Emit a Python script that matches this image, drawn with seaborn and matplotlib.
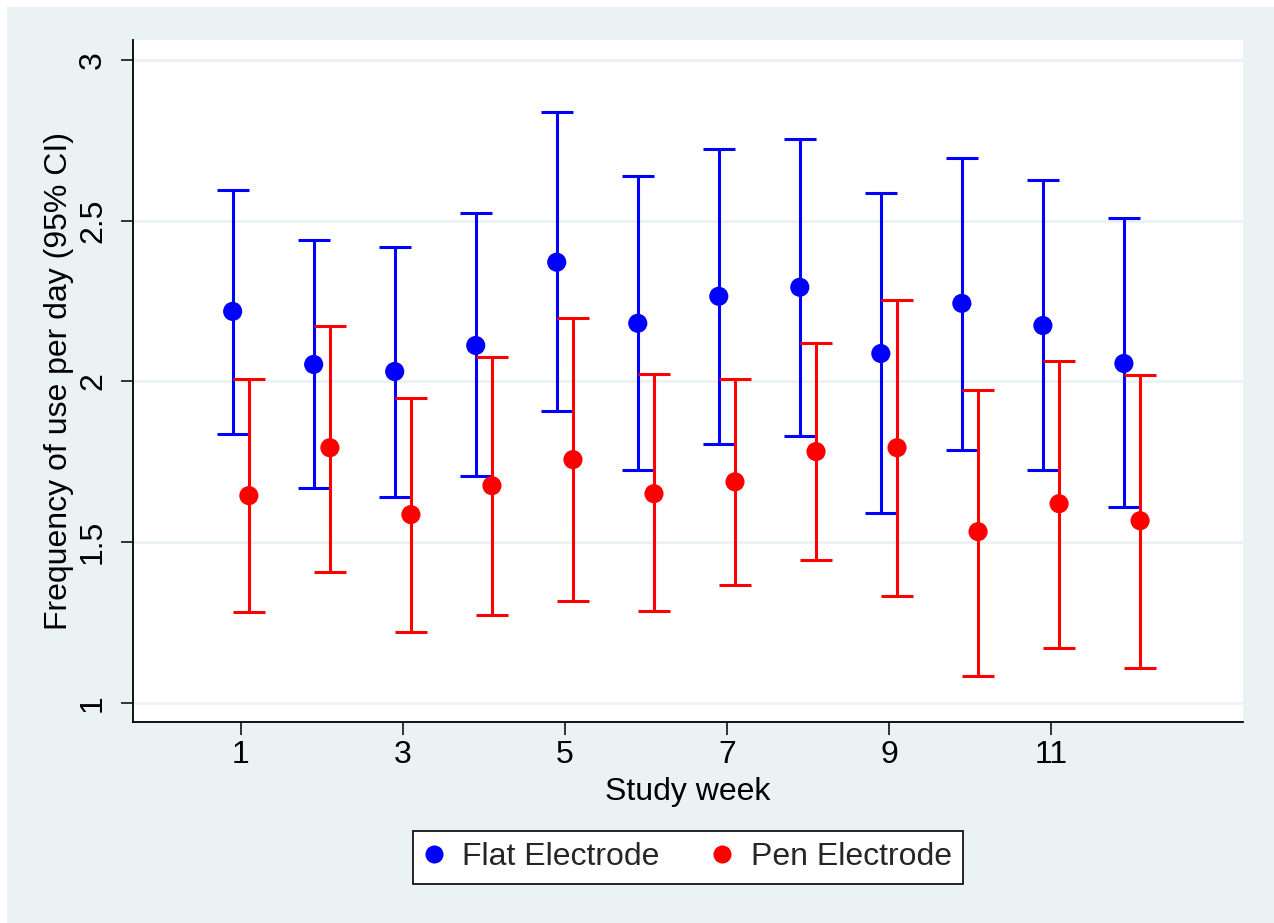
import matplotlib
matplotlib.use("Agg")
import matplotlib.pyplot as plt
from matplotlib.lines import Line2D
from matplotlib.patches import Rectangle
import seaborn as sns
import pandas as pd
import numpy as np

# ---- data ----
weeks = [1, 2, 3, 4, 5, 6, 7, 8, 9, 10, 11, 12]
flat_mean = [2.218, 2.053, 2.031, 2.112, 2.371, 2.181, 2.265, 2.293, 2.087, 2.243, 2.174, 2.056]
flat_lo   = [1.838, 1.670, 1.642, 1.707, 1.907, 1.726, 1.807, 1.832, 1.592, 1.788, 1.726, 1.611]
flat_hi   = [2.595, 2.439, 2.417, 2.523, 2.838, 2.639, 2.723, 2.754, 2.586, 2.695, 2.626, 2.508]
pen_mean  = [1.645, 1.794, 1.586, 1.676, 1.757, 1.651, 1.688, 1.782, 1.794, 1.533, 1.620, 1.567]
pen_lo    = [1.283, 1.408, 1.221, 1.274, 1.318, 1.287, 1.368, 1.445, 1.333, 1.084, 1.171, 1.109]
pen_hi    = [2.009, 2.174, 1.950, 2.075, 2.196, 2.022, 2.009, 2.121, 2.252, 1.975, 2.065, 2.019]
groups = ["Flat Electrode", "Pen Electrode"]
xticks = [1, 3, 5, 7, 9, 11]
yticks = [1, 1.5, 2, 2.5, 3]
ytick_labels = ["1", "1.5", "2", "2.5", "3"]

colors = {"Flat Electrode": "#0000FF", "Pen Electrode": "#FF0000"}
offsets = {"Flat Electrode": -0.1, "Pen Electrode": 0.1}

df = pd.concat([
    pd.DataFrame({"week": weeks, "mean": flat_mean, "lo": flat_lo, "hi": flat_hi, "group": groups[0]}),
    pd.DataFrame({"week": weeks, "mean": pen_mean, "lo": pen_lo, "hi": pen_hi, "group": groups[1]}),
], ignore_index=True)
df["pos"] = df["week"] + df["group"].map(offsets)

sns.set_theme(style="white")
plt.rcParams["font.family"] = ["Liberation Sans", "DejaVu Sans"]

FS = 23
BG = "#EAF2F3"
fig = plt.figure(figsize=(12.74, 9.23), dpi=100, facecolor="white")
fig.patches.append(Rectangle((7 / 1274, 0), 1 - 7 / 1274, 1 - 7 / 923,
                             transform=fig.transFigure, facecolor=BG,
                             edgecolor="none", zorder=-10))
ax = fig.add_axes([133 / 1274, 1 - 722 / 923, (1243 - 133) / 1274, (722 - 40) / 923])
ax.set_facecolor("white")

for g in groups:
    sub = df[df["group"] == g]
    ax.errorbar(sub["pos"], sub["mean"],
                yerr=[sub["mean"] - sub["lo"], sub["hi"] - sub["mean"]],
                fmt="none", ecolor=colors[g], elinewidth=2.2,
                capsize=11.5, capthick=2.2, zorder=2)

sns.scatterplot(data=df, x="pos", y="mean", hue="group", palette=colors,
                s=190, edgecolor="none", linewidth=0, ax=ax, legend=False, zorder=3)

ax.set_xlim(-0.33, 13.37)
ax.set_ylim(0.941, 3.062)
ax.set_xticks(xticks)
ax.set_xticklabels([str(t) for t in xticks])
ax.set_yticks(yticks)
ax.set_yticklabels(ytick_labels)
ax.yaxis.grid(True, color=BG, linewidth=2)
ax.xaxis.grid(False)
ax.set_axisbelow(True)

for s in ["top", "right"]:
    ax.spines[s].set_visible(False)
for s in ["left", "bottom"]:
    ax.spines[s].set_color("black")
    ax.spines[s].set_linewidth(1.3)

ax.tick_params(axis="both", which="major", length=9, width=1.1, color="black",
               labelsize=FS, labelcolor="black", direction="out", bottom=True, left=True)
ax.tick_params(axis="x", pad=4)
ax.tick_params(axis="y", pad=9)
plt.setp(ax.get_yticklabels(), rotation=90, va="center")

ax.set_xlabel("Study week", fontsize=FS, color="black", labelpad=5)
ax.set_ylabel("Frequency of use per day (95% CI)", fontsize=FS, color="black", labelpad=3)

handles = [Line2D([0], [0], marker="o", linestyle="none", markersize=13,
                  markerfacecolor=colors[g], markeredgecolor="none") for g in groups]
leg = fig.legend(handles, groups, loc="center", bbox_to_anchor=(688 / 1274, 1 - 857 / 923),
                 ncol=2, fontsize=FS, frameon=True, fancybox=False, framealpha=1,
                 edgecolor="black", facecolor="white", handlelength=0.6,
                 handletextpad=0.58, columnspacing=1.67, borderpad=0.36)
leg.get_frame().set_linewidth(1.2)

fig.savefig("out.png", dpi=100, facecolor=fig.get_facecolor())
